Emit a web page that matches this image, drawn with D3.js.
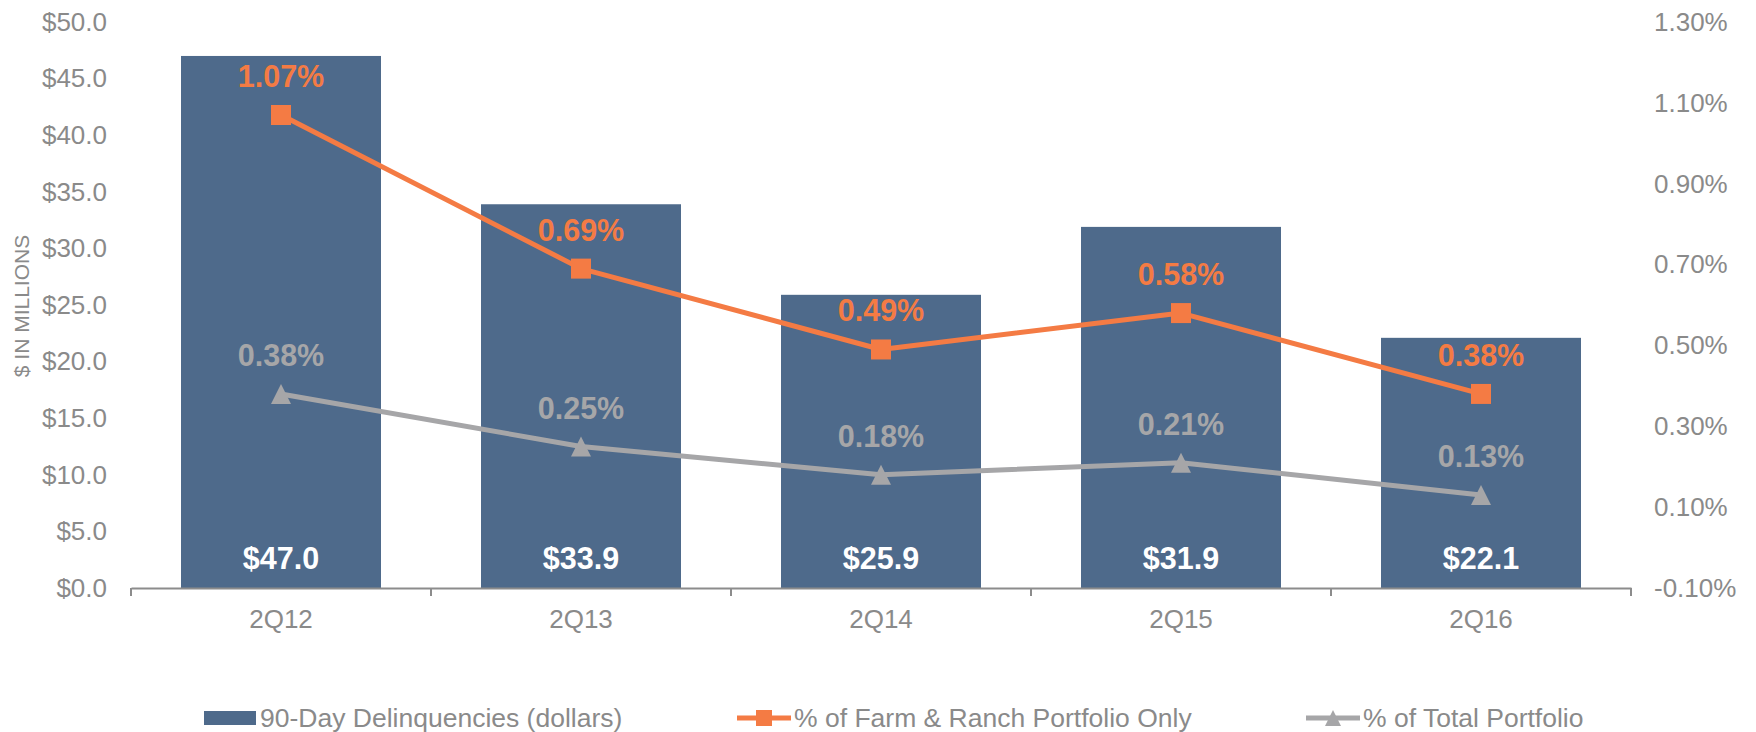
<!DOCTYPE html>
<html>
<head>
<meta charset="utf-8">
<script src="https://cdn.jsdelivr.net/npm/d3@7"></script>
<style>
	body { margin: 0; background: #fff; }
	svg { display: block; font-family: Arial, "Liberation Sans", sans-serif; }
</style>
</head>
<body>
<svg id="chart" width="1756" height="732"></svg>
<script>
'use strict'

const quarters = ['2Q12', '2Q13', '2Q14', '2Q15', '2Q16']
const delinquencies = [47.0, 33.9, 25.9, 31.9, 22.1]
const farmRanchPct = [1.07, 0.69, 0.49, 0.58, 0.38]
const totalPct = [0.38, 0.25, 0.18, 0.21, 0.13]
const leftTicks = [0, 5, 10, 15, 20, 25, 30, 35, 40, 45, 50]
const rightTicks = [-0.1, 0.1, 0.3, 0.5, 0.7, 0.9, 1.1, 1.3]
const legendNames = ['90-Day Delinquencies (dollars)', '% of Farm & Ranch Portfolio Only', '% of Total Portfolio']

const colors = {
	bar: '#4e6a8b',
	orange: '#f47b44',
	grey: '#a6a6a8',
	axisText: '#8a8a8a',
	axisLine: '#8c8c8c'
}

// plain hyphen for negatives, like the original
const pctFormat = d3.formatLocale({ decimal: '.', thousands: ',', grouping: [3], currency: ['$', ''], minus: '-' }).format('.2f')

const svg = d3.select('#chart')
const params = {
	left: 131,
	right: 1631,
	top: 22,
	bottom: 588,
	tickFont: 26,
	labelFont: 30.5,
	lineWidth: 5,
	markerSize: 20
}

const x = d3.scaleBand()
	.domain(quarters)
	.range([params.left, params.right])
	.paddingInner(1 / 3)
	.paddingOuter(1 / 6)
const yLeft = d3.scaleLinear().domain([0, 50]).range([params.bottom, params.top])
const yRight = d3.scaleLinear().domain([-0.1, 1.3]).range([params.bottom, params.top])
const cx = (q) => x(q) + x.bandwidth() / 2

// left axis (labels only)
const leftAxis = svg.append('g')
	.attr('transform', `translate(${params.left - 24},0)`)
	.call(d3.axisLeft(yLeft).tickValues(leftTicks).tickSize(0).tickPadding(0)
		.tickFormat((d) => '$' + d.toFixed(1)))
leftAxis.select('.domain').remove()
leftAxis.selectAll('text')
	.attr('font-size', params.tickFont)
	.attr('font-family', 'Arial, "Liberation Sans", sans-serif')
	.attr('fill', colors.axisText)

// right axis (labels only)
const rightAxis = svg.append('g')
	.attr('transform', `translate(${params.right + 23},0)`)
	.call(d3.axisRight(yRight).tickValues(rightTicks).tickSize(0).tickPadding(0)
		.tickFormat((d) => pctFormat(d) + '%'))
rightAxis.select('.domain').remove()
rightAxis.selectAll('text')
	.attr('font-size', params.tickFont)
	.attr('font-family', 'Arial, "Liberation Sans", sans-serif')
	.attr('fill', colors.axisText)

// axis title
svg.append('text')
	.attr('transform', `translate(29, 306) rotate(-90)`)
	.attr('text-anchor', 'middle')
	.attr('font-size', 21)
	.attr('fill', colors.axisText)
	.text('$ IN MILLIONS')

// bars
svg.append('g')
	.selectAll('rect')
	.data(quarters)
	.enter()
	.append('rect')
	.attr('x', (q) => x(q))
	.attr('y', (q, i) => yLeft(delinquencies[i]))
	.attr('width', x.bandwidth())
	.attr('height', (q, i) => yLeft(0) - yLeft(delinquencies[i]))
	.attr('fill', colors.bar)

// bottom axis
const bottomAxis = svg.append('g')
	.attr('transform', `translate(0,${params.bottom})`)
	.call(d3.axisBottom(x).tickSize(0).tickPadding(22).tickSizeOuter(0))
bottomAxis.select('.domain').attr('stroke', colors.axisLine).attr('stroke-width', 2)
bottomAxis.selectAll('text')
	.attr('font-size', params.tickFont)
	.attr('font-family', 'Arial, "Liberation Sans", sans-serif')
	.attr('fill', colors.axisText)
const boundaries = quarters.map((q) => x(q) - x.step() * x.paddingInner() / 2)
boundaries[0] = params.left
boundaries.push(params.right)
bottomAxis.selectAll('.boundary')
	.data(boundaries)
	.enter()
	.append('line')
	.attr('class', 'boundary')
	.attr('x1', (d) => d)
	.attr('x2', (d) => d)
	.attr('y1', 0)
	.attr('y2', 8)
	.attr('stroke', colors.axisLine)
	.attr('stroke-width', 2)

// bar value labels
svg.append('g')
	.selectAll('text')
	.data(quarters)
	.enter()
	.append('text')
	.attr('x', cx)
	.attr('y', 569)
	.attr('text-anchor', 'middle')
	.attr('font-size', params.labelFont)
	.attr('font-weight', 'bold')
	.attr('fill', '#fff')
	.text((q, i) => '$' + delinquencies[i].toFixed(1))

const line = d3.line()
	.x((d) => cx(d.q))
	.y((d) => yRight(d.v))

function drawSeries(values, color, marker) {
	const pts = quarters.map((q, i) => ({ q, v: values[i] }))
	const g = svg.append('g')
	g.append('path')
		.attr('d', line(pts))
		.attr('fill', 'none')
		.attr('stroke', color)
		.attr('stroke-width', params.lineWidth)
		.attr('stroke-linejoin', 'round')
	const s = params.markerSize
	g.selectAll('.marker')
		.data(pts)
		.enter()
		.append('path')
		.attr('class', 'marker')
		.attr('d', (d) => markerPath(marker, cx(d.q), yRight(d.v), s))
		.attr('fill', color)
	g.selectAll('.lbl')
		.data(pts)
		.enter()
		.append('text')
		.attr('class', 'lbl')
		.attr('x', (d) => cx(d.q))
		.attr('y', (d) => yRight(d.v) - 28)
		.attr('text-anchor', 'middle')
		.attr('font-size', params.labelFont)
		.attr('font-weight', 'bold')
		.attr('fill', color)
		.text((d) => pctFormat(d.v) + '%')
}

function markerPath(type, px, py, s) {
	if (type === 'square')
		return `M${px - s / 2},${py - s / 2}h${s}v${s}h${-s}Z`
	return `M${px},${py - s / 2}L${px + s / 2},${py + s / 2}L${px - s / 2},${py + s / 2}Z`
}

drawSeries(totalPct, colors.grey, 'triangle')
drawSeries(farmRanchPct, colors.orange, 'square')

// legend
const legend = svg.append('g').attr('font-size', 26.5).attr('fill', colors.axisText)
legend.append('rect')
	.attr('x', 204).attr('y', 711).attr('width', 52).attr('height', 14)
	.attr('fill', colors.bar)
legend.append('text').attr('x', 260).attr('y', 727).text(legendNames[0])

legend.append('line')
	.attr('x1', 737).attr('x2', 791).attr('y1', 718).attr('y2', 718)
	.attr('stroke', colors.orange).attr('stroke-width', params.lineWidth)
legend.append('path').attr('d', markerPath('square', 764, 718, 16)).attr('fill', colors.orange)
legend.append('text').attr('x', 794).attr('y', 727).text(legendNames[1])

legend.append('line')
	.attr('x1', 1306).attr('x2', 1360).attr('y1', 718).attr('y2', 718)
	.attr('stroke', colors.grey).attr('stroke-width', params.lineWidth)
legend.append('path').attr('d', markerPath('triangle', 1333, 718, 16)).attr('fill', colors.grey)
legend.append('text').attr('x', 1363).attr('y', 727).text(legendNames[2])
</script>
</body>
</html>
